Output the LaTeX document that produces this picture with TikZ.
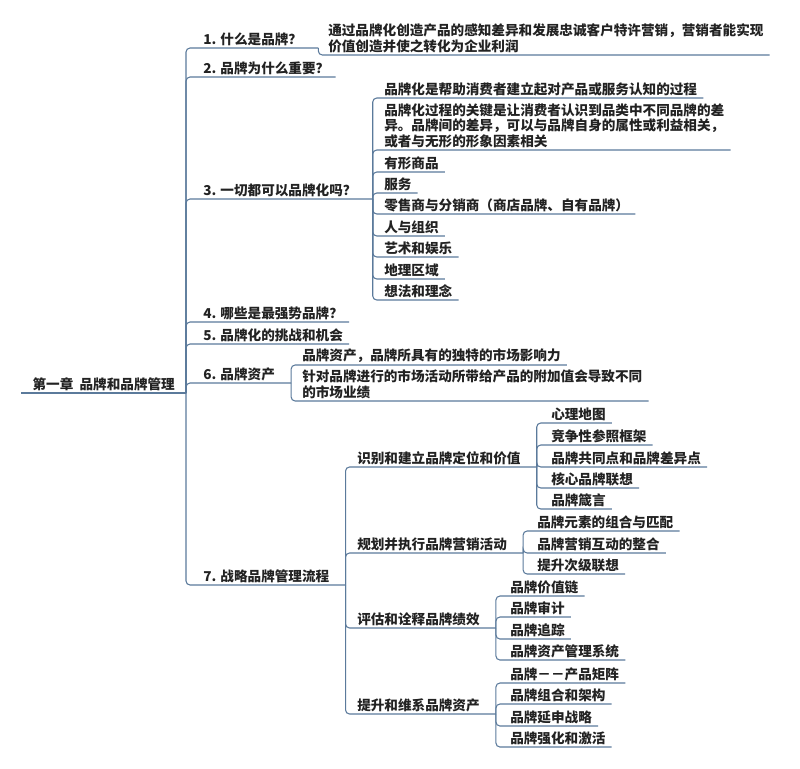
\documentclass[tikz,border=0pt]{standalone}
\usepackage{fontspec}
\setmainfont{Noto Sans CJK SC}
\usepackage{xcolor}
\usepackage{tikz}
\definecolor{linec}{HTML}{5B7A9B}
\definecolor{textc}{HTML}{222222}
\tikzset{
    label base/.style={anchor=south west, inner ysep=1.5pt, align=left, text=textc,
        font=\fontsize{10.2pt}{11.6pt}\selectfont\bfseries},
    topic/.style={label base, inner xsep=4.5pt, xshift=-4.5pt},
    hub/.style={label base, inner xsep=12pt, xshift=-12pt},
    link/.style={draw=linec, line width=0.8pt, rounded corners=3pt}
}

\begin{document}
\begin{tikzpicture}[x=0.75pt, y=-0.75pt]
        \useasboundingbox (0,0) rectangle (800,768);
        % root
        \node [label base, anchor=south east, inner xsep=4.5pt, minimum width=123pt] (root) at (186, 393) {第一章\ \ 品牌和品牌管理};
        \draw [link] (root.south west) -- (root.south east);
        % first level
        \node [hub] (c1) at (203, 48) {1. 什么是品牌？};
        \node [topic] (c2) at (203, 77) {2. 品牌为什么重要？};
        \node [hub] (c3) at (203, 199) {3. 一切都可以品牌化吗？};
        \node [topic] (c4) at (203, 322) {4. 哪些是最强势品牌？};
        \node [topic] (c5) at (203, 344) {5. 品牌化的挑战和机会};
        \node [hub] (c6) at (203, 383) {6. 品牌资产};
        \node [hub] (c7) at (203, 585) {7. 战略品牌管理流程};
        \foreach \c in {c1, c2, c3, c4, c5, c6, c7}{
                \draw [link] (root.south east) |- (\c.south east);
            }
        % 1.
        \node [topic] (d1) at (328, 55) {通过品牌化创造产品的感知差异和发展忠诚客户特许营销，营销者能实现\\价值创造并使之转化为企业利润};
        \draw [link] (c1.south east) |- (d1.south east);
        % 3.
        \node [topic] (c3a) at (384, 98) {品牌化是帮助消费者建立起对产品或服务认知的过程};
        \node [topic] (c3b) at (384, 150) {品牌化过程的关键是让消费者认识到品类中不同品牌的差\\异。品牌间的差异，可以与品牌自身的属性或利益相关，\\或者与无形的形象因素相关};
        \node [topic] (c3c) at (384, 172) {有形商品};
        \node [topic] (c3d) at (384, 193) {服务};
        \node [topic] (c3e) at (384, 214) {零售商与分销商（商店品牌、自有品牌）};
        \node [topic] (c3f) at (384, 236) {人与组织};
        \node [topic] (c3g) at (384, 257) {艺术和娱乐};
        \node [topic] (c3h) at (384, 279) {地理区域};
        \node [topic] (c3i) at (384, 300) {想法和理念};
        \foreach \c in {c3a, c3b, c3c, c3d, c3e, c3f, c3g, c3h, c3i}{
                \draw [link] (c3.south east) |- (\c.south east);
            }
        % 6.
        \node [topic] (c6a) at (302, 365) {品牌资产，品牌所具有的独特的市场影响力};
        \node [topic] (c6b) at (302, 401) {针对品牌进行的市场活动所带给产品的附加值会导致不同\\的市场业绩};
        \foreach \c in {c6a, c6b}{
                \draw [link] (c6.south east) |- (\c.south east);
            }
        % 7.
        \node [hub] (s1) at (357, 467) {识别和建立品牌定位和价值};
        \node [hub] (s2) at (357, 553) {规划并执行品牌营销活动};
        \node [hub] (s3) at (357, 628) {评估和诠释品牌绩效};
        \node [hub] (s4) at (357, 714) {提升和维系品牌资产};
        \foreach \c in {s1, s2, s3, s4}{
                \draw [link] (c7.south east) |- (\c.south east);
            }
        \node [topic] (s1a) at (551, 423) {心理地图};
        \node [topic] (s1b) at (551, 445) {竞争性参照框架};
        \node [topic] (s1c) at (551, 467) {品牌共同点和品牌差异点};
        \node [topic] (s1d) at (551, 488) {核心品牌联想};
        \node [topic] (s1e) at (551, 509) {品牌箴言};
        \foreach \c in {s1a, s1b, s1c, s1d, s1e}{
                \draw [link] (s1.south east) |- (\c.south east);
            }
        \node [topic] (s2a) at (537, 531) {品牌元素的组合与匹配};
        \node [topic] (s2b) at (537, 553) {品牌营销互动的整合};
        \node [topic] (s2c) at (537, 574) {提升次级联想};
        \foreach \c in {s2a, s2b, s2c}{
                \draw [link] (s2.south east) |- (\c.south east);
            }
        \node [topic] (s3a) at (510, 596) {品牌价值链};
        \node [topic] (s3b) at (510, 617) {品牌审计};
        \node [topic] (s3c) at (510, 639) {品牌追踪};
        \node [topic] (s3d) at (510, 660) {品牌资产管理系统};
        \foreach \c in {s3a, s3b, s3c, s3d}{
                \draw [link] (s3.south east) |- (\c.south east);
            }
        \node [topic] (s4a) at (510, 683) {品牌－－产品矩阵};
        \node [topic] (s4b) at (510, 704) {品牌组合和架构};
        \node [topic] (s4c) at (510, 726) {品牌延申战略};
        \node [topic] (s4d) at (510, 747) {品牌强化和激活};
        \foreach \c in {s4a, s4b, s4c, s4d}{
                \draw [link] (s4.south east) |- (\c.south east);
            }
    \end{tikzpicture}
\end{document}
